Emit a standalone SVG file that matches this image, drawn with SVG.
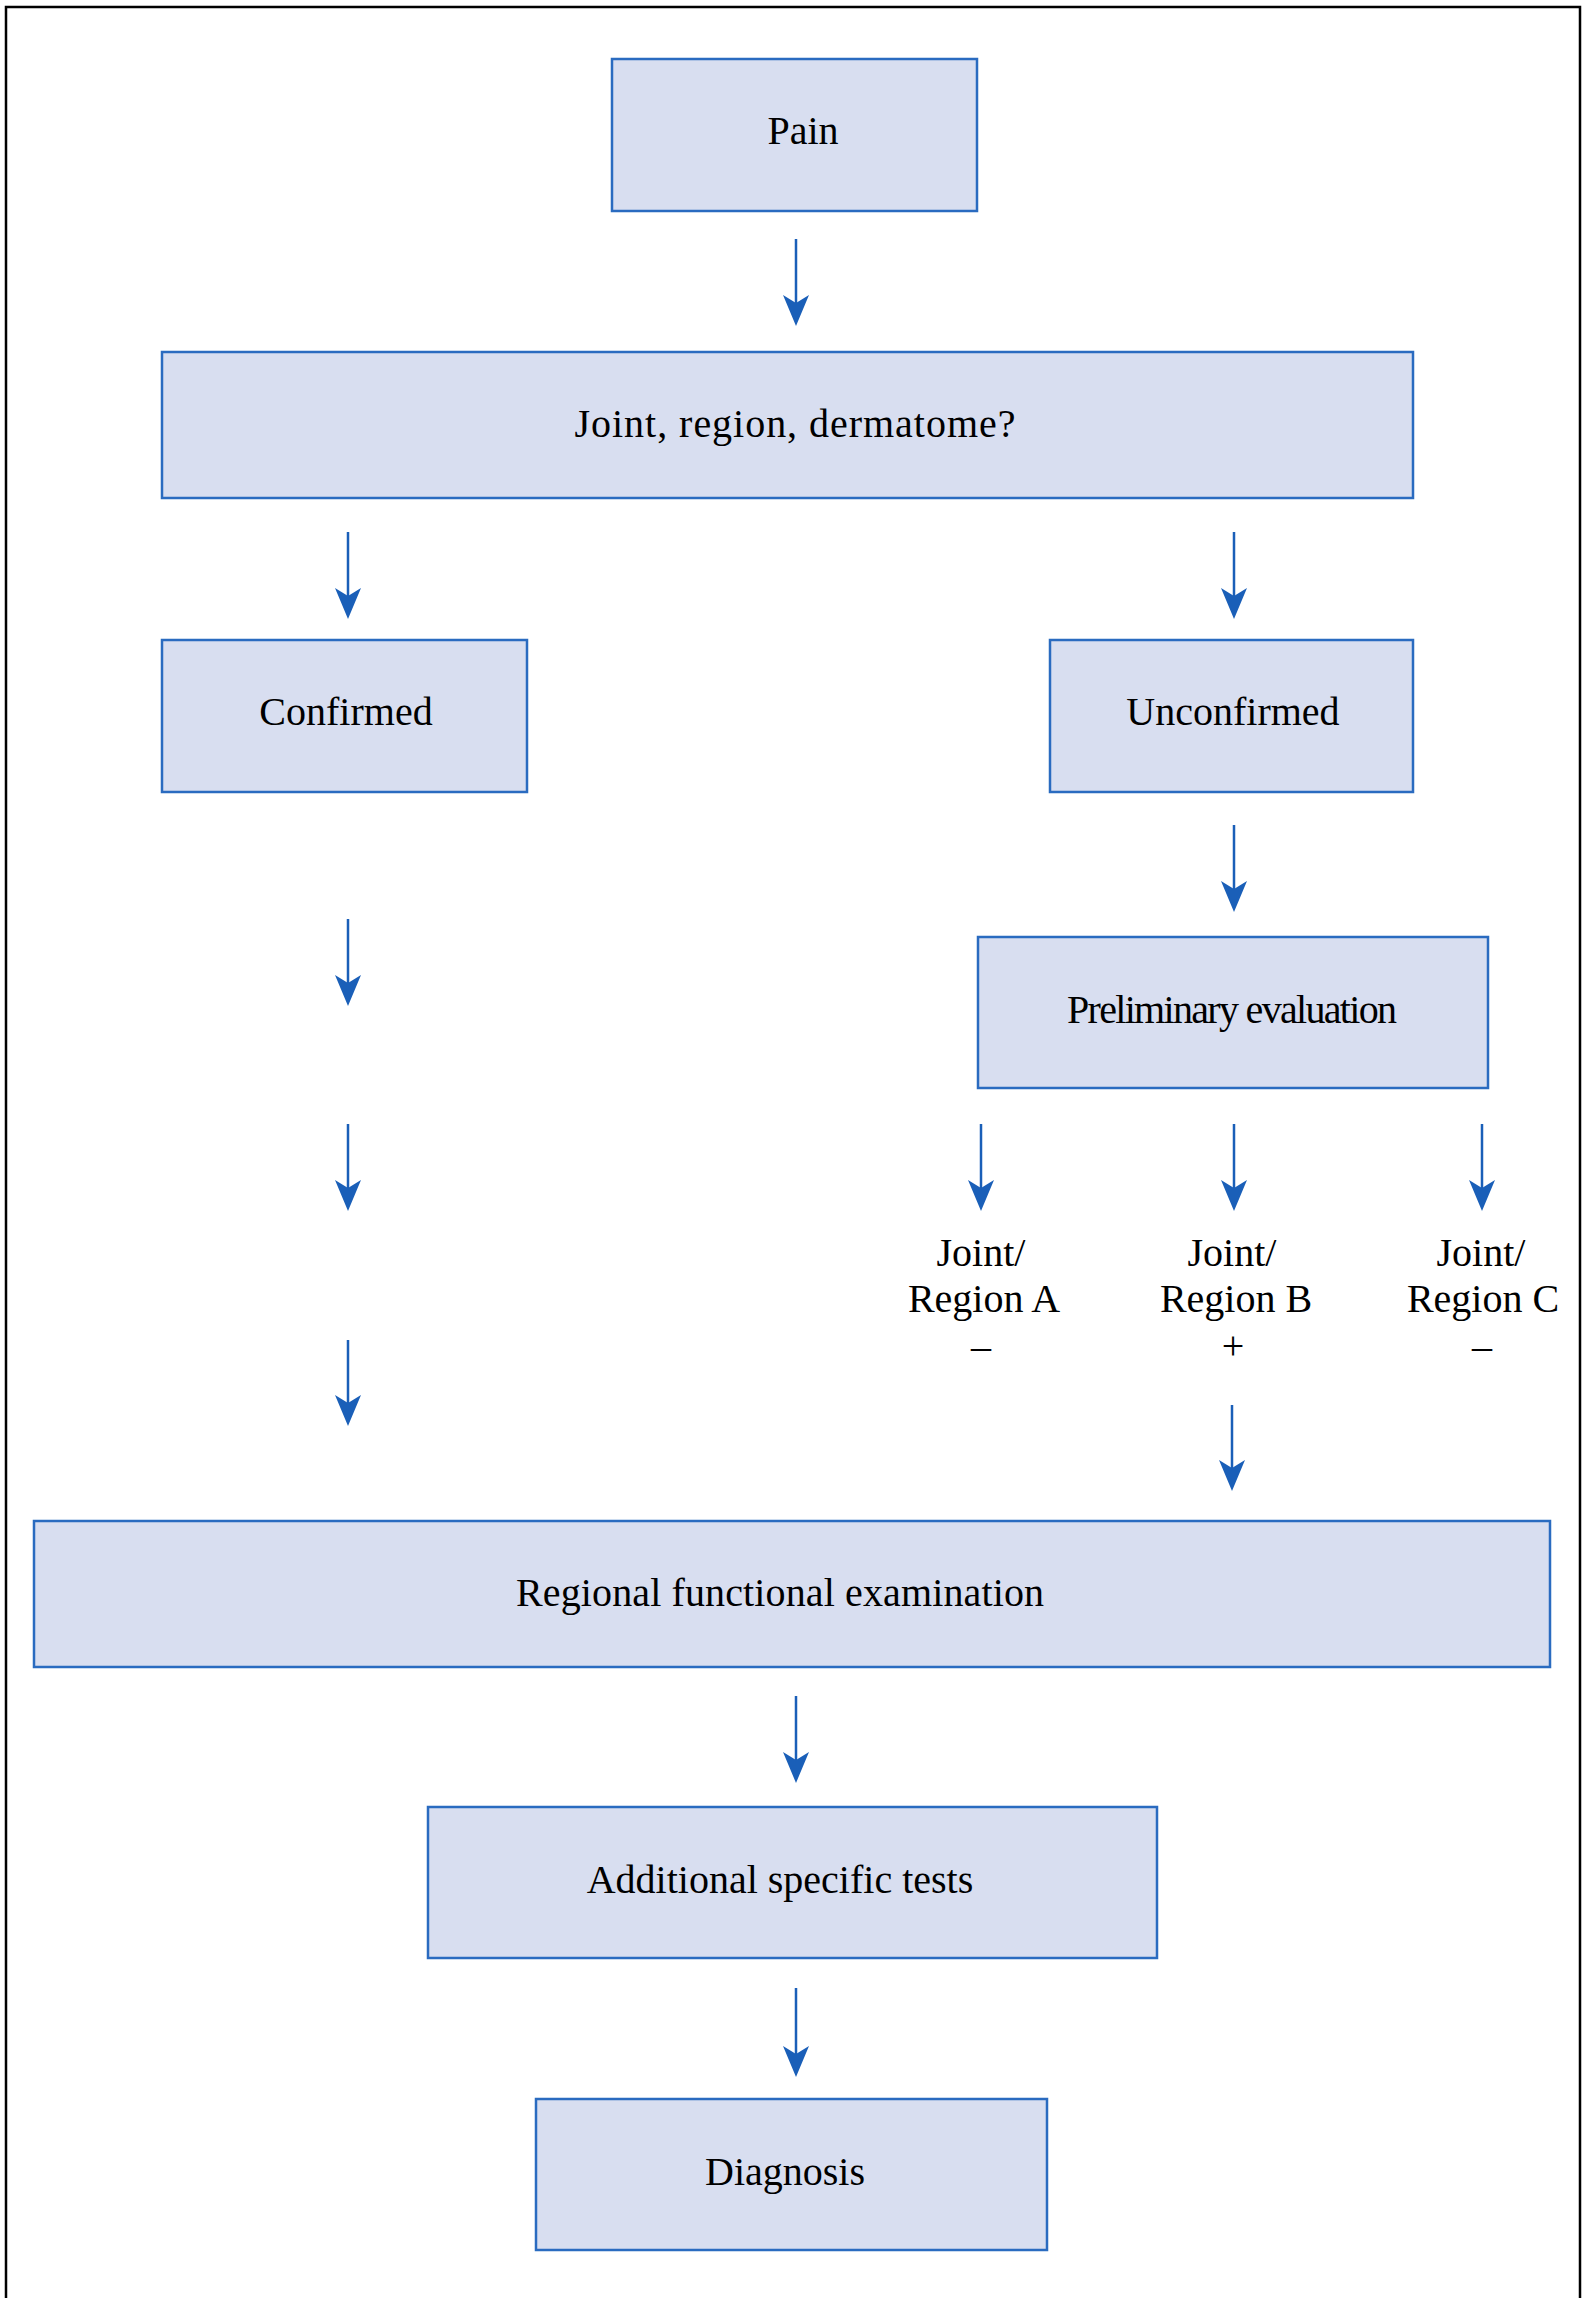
<svg xmlns="http://www.w3.org/2000/svg" width="1586" height="2298" viewBox="0 0 1586 2298">
<style>
.box{fill:#D8DEF0;stroke:#2A6BC0;stroke-width:2.5}
.lbl{font-family:"Liberation Serif","Times New Roman",serif;font-size:40px;fill:#000;text-anchor:middle}
.conn{stroke:#1A5FB8;stroke-width:2.5;fill:none}
</style>
<defs>
<marker id="ah" markerUnits="userSpaceOnUse" viewBox="-1 -15 34 30" markerWidth="34" markerHeight="30" refX="8" refY="0" orient="auto">
<path d="M31,0 L0,-13 L8,0 L0,13 Z" fill="#1A5FB8"/>
</marker>
</defs>
<rect x="0" y="0" width="1586" height="2298" fill="#fff"/>
<path d="M6,2310 V7 H1580 V2310" fill="none" stroke="#000" stroke-width="2.5"/>
<g id="connectors">
<line class="conn" x1="796" y1="239" x2="796" y2="303" marker-end="url(#ah)"/>
<line class="conn" x1="348" y1="532" x2="348" y2="596" marker-end="url(#ah)"/>
<line class="conn" x1="1234" y1="532" x2="1234" y2="596" marker-end="url(#ah)"/>
<line class="conn" x1="348" y1="919" x2="348" y2="983" marker-end="url(#ah)"/>
<line class="conn" x1="1234" y1="825" x2="1234" y2="889" marker-end="url(#ah)"/>
<line class="conn" x1="348" y1="1124" x2="348" y2="1188" marker-end="url(#ah)"/>
<line class="conn" x1="981" y1="1124" x2="981" y2="1188" marker-end="url(#ah)"/>
<line class="conn" x1="1234" y1="1124" x2="1234" y2="1188" marker-end="url(#ah)"/>
<line class="conn" x1="1482" y1="1124" x2="1482" y2="1188" marker-end="url(#ah)"/>
<line class="conn" x1="348" y1="1340" x2="348" y2="1403" marker-end="url(#ah)"/>
<line class="conn" x1="1232" y1="1405" x2="1232" y2="1468" marker-end="url(#ah)"/>
<line class="conn" x1="796" y1="1696" x2="796" y2="1760" marker-end="url(#ah)"/>
<line class="conn" x1="796" y1="1988" x2="796" y2="2054" marker-end="url(#ah)"/>
</g>
<g id="pain"><rect class="box" x="612" y="59" width="365" height="152"/><text class="lbl" x="803" y="144">Pain</text></g>
<g id="joint-region"><rect class="box" x="162" y="352" width="1251" height="146"/><text class="lbl" x="795" y="437" textLength="441" lengthAdjust="spacing">Joint, region, dermatome?</text></g>
<g id="confirmed"><rect class="box" x="162" y="640" width="365" height="152"/><text class="lbl" x="346" y="725">Confirmed</text></g>
<g id="unconfirmed"><rect class="box" x="1050" y="640" width="363" height="152"/><text class="lbl" x="1233" y="725">Unconfirmed</text></g>
<g id="preliminary"><rect class="box" x="978" y="937" width="510" height="151"/><text class="lbl" x="1232" y="1023" textLength="330" lengthAdjust="spacing">Preliminary evaluation</text></g>
<g id="region-a"><text class="lbl" x="981" y="1266">Joint/</text><text class="lbl" x="984" y="1312">Region A</text><text class="lbl" x="981" y="1359">–</text></g>
<g id="region-b"><text class="lbl" x="1232" y="1266">Joint/</text><text class="lbl" x="1236" y="1312">Region B</text><text class="lbl" x="1233" y="1359">+</text></g>
<g id="region-c"><text class="lbl" x="1481" y="1266">Joint/</text><text class="lbl" x="1483" y="1312">Region C</text><text class="lbl" x="1482" y="1359">–</text></g>
<g id="regional"><rect class="box" x="34" y="1521" width="1516" height="146"/><text class="lbl" x="780" y="1606" textLength="528" lengthAdjust="spacing">Regional functional examination</text></g>
<g id="additional"><rect class="box" x="428" y="1807" width="729" height="151"/><text class="lbl" x="780" y="1893">Additional specific tests</text></g>
<g id="diagnosis"><rect class="box" x="536" y="2099" width="511" height="151"/><text class="lbl" x="785" y="2185">Diagnosis</text></g>
</svg>
